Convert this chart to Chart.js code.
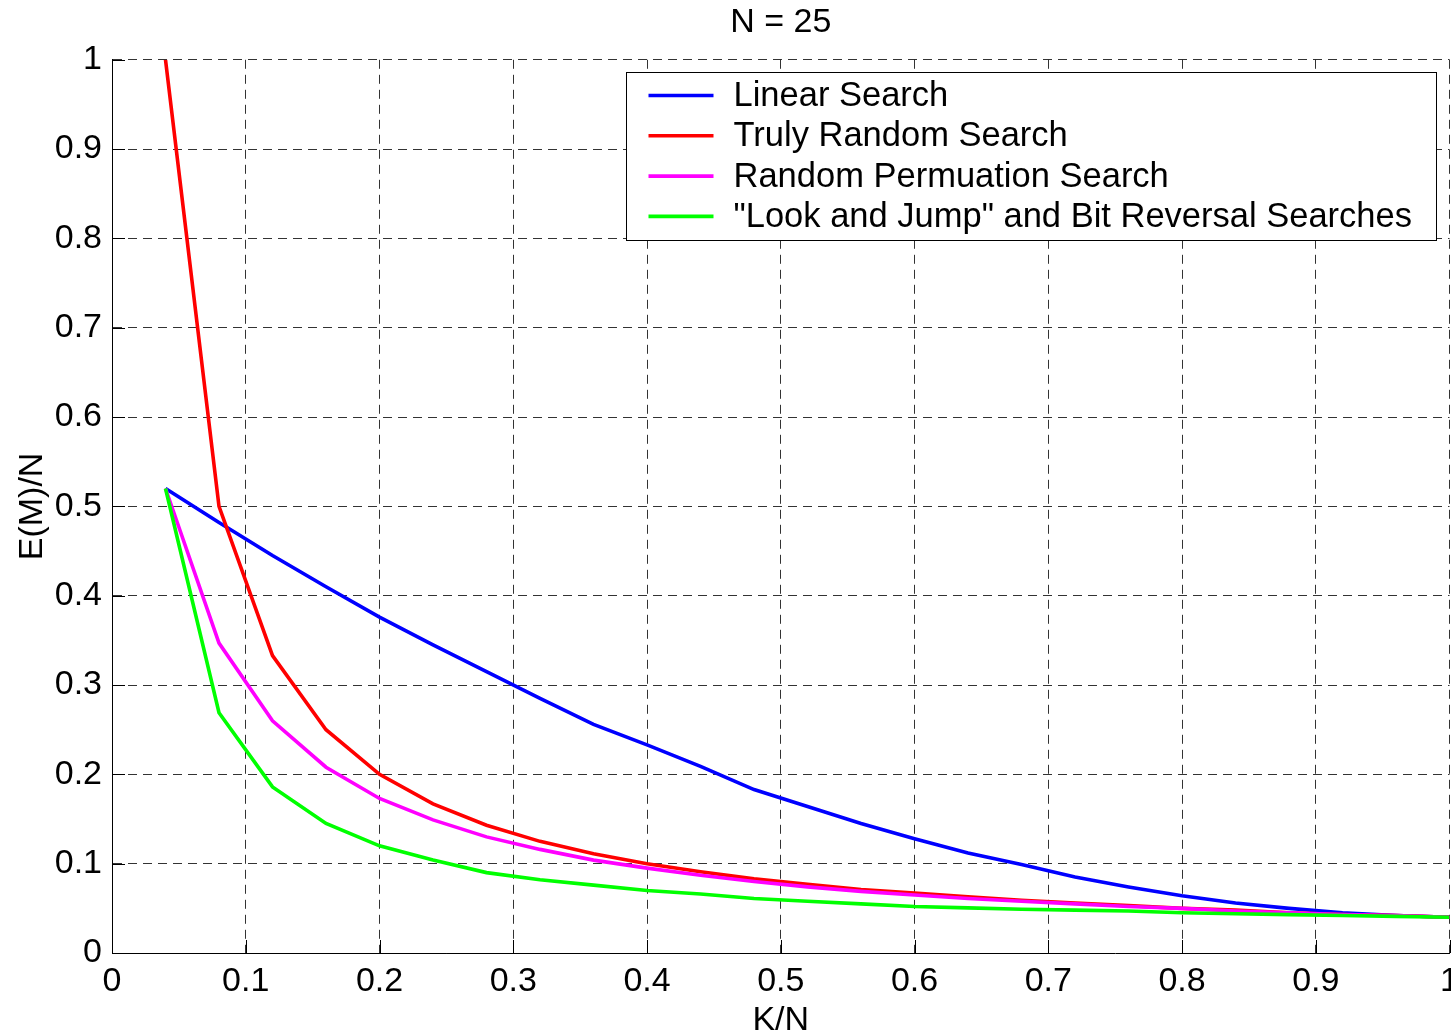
<!DOCTYPE html>
<html>
<head>
<meta charset="utf-8">
<title>N = 25</title>
<script src="https://cdn.jsdelivr.net/npm/chart.js@4/dist/chart.umd.min.js"></script>
<style>
  html, body { margin: 0; padding: 0; background: #fff; overflow: hidden; }
  #wrap { position: absolute; left: 0; top: 0; }
</style>
</head>
<body>
<div id="wrap"><canvas id="chart" width="1467" height="1034"></canvas></div>
<script>
// K/N for K = 1..25 with N = 25
const kOverN = [0.04, 0.08, 0.12, 0.16, 0.20, 0.24, 0.28, 0.32, 0.36, 0.40, 0.44, 0.48, 0.52,
                0.56, 0.60, 0.64, 0.68, 0.72, 0.76, 0.80, 0.84, 0.88, 0.92, 0.96, 1.00];

// E(M)/N for each search strategy
const linearSearch      = [0.520, 0.482, 0.445, 0.410, 0.376, 0.345, 0.315, 0.285, 0.256, 0.233, 0.209, 0.183, 0.164,
                           0.145, 0.128, 0.112, 0.099, 0.085, 0.074, 0.064, 0.056, 0.050, 0.045, 0.042, 0.040];
const trulyRandom       = [1.000, 0.500, 0.333, 0.250, 0.200, 0.167, 0.143, 0.125, 0.111, 0.100, 0.091, 0.083, 0.077,
                           0.071, 0.067, 0.063, 0.059, 0.056, 0.053, 0.050, 0.048, 0.045, 0.043, 0.042, 0.040];
const randomPermutation = [0.520, 0.347, 0.260, 0.208, 0.173, 0.149, 0.130, 0.116, 0.104, 0.095, 0.087, 0.080, 0.074,
                           0.069, 0.065, 0.061, 0.058, 0.055, 0.052, 0.050, 0.047, 0.045, 0.043, 0.042, 0.040];
const lookAndJump       = [0.520, 0.269, 0.186, 0.145, 0.120, 0.104, 0.090, 0.082, 0.076, 0.070, 0.066, 0.061, 0.058,
                           0.055, 0.052, 0.0505, 0.049, 0.048, 0.047, 0.045, 0.044, 0.043, 0.042, 0.041, 0.040];

const seriesLabels = ['Linear Search', 'Truly Random Search', 'Random Permuation Search',
                      '"Look and Jump" and Bit Reversal Searches'];
const seriesColors = ['#0000ff', '#ff0000', '#ff00ff', '#00ff00'];

const xTickLabels = ['0', '0.1', '0.2', '0.3', '0.4', '0.5', '0.6', '0.7', '0.8', '0.9', '1'];
const yTickLabels = ['0', '0.1', '0.2', '0.3', '0.4', '0.5', '0.6', '0.7', '0.8', '0.9', '1'];

const FONT = '"Liberation Sans", Arial, Helvetica, sans-serif';

function toPoints(ys) { return ys.map((y, i) => ({ x: kOverN[i], y: y })); }

const seriesValues = [linearSearch, trulyRandom, randomPermutation, lookAndJump];
// later series are painted on top
const drawOrder = [3, 2, 1, 0];

const datasets = seriesValues.map((vals, i) => ({
  label: seriesLabels[i],
  data: toPoints(vals),
  borderColor: seriesColors[i],
  backgroundColor: seriesColors[i],
  borderWidth: 3.6,
  pointRadius: 0,
  tension: 0,
  fill: false,
  order: drawOrder[i]
}));

// short inward tick marks on the left and bottom axes
const innerTicks = {
  id: 'innerTicks',
  afterDatasetsDraw(chart) {
    const { ctx, chartArea, scales } = chart;
    const len = 13;
    ctx.save();
    ctx.strokeStyle = '#000';
    ctx.lineWidth = 1;
    ctx.beginPath();
    scales.x.ticks.forEach(t => {
      const px = Math.round(scales.x.getPixelForValue(t.value)) + 0.5;
      ctx.moveTo(px, chartArea.bottom);
      ctx.lineTo(px, chartArea.bottom - len);
    });
    scales.y.ticks.forEach(t => {
      const py = Math.round(scales.y.getPixelForValue(t.value)) + 0.5;
      ctx.moveTo(chartArea.left, py);
      ctx.lineTo(chartArea.left + len, py);
    });
    ctx.stroke();
    ctx.restore();
  }
};

// boxed legend in the upper-right corner of the plot
const boxLegend = {
  id: 'boxLegend',
  afterDatasetsDraw(chart, args, opts) {
    const { ctx, chartArea } = chart;
    const w = opts.width, h = opts.height;
    const x0 = Math.round(chartArea.right - opts.marginRight - w) + 0.5;
    const y0 = Math.round(chartArea.top + opts.marginTop) + 0.5;
    ctx.save();
    ctx.fillStyle = '#fff';
    ctx.fillRect(x0, y0, w, h);
    ctx.strokeStyle = '#000';
    ctx.lineWidth = 1;
    ctx.strokeRect(x0, y0, w, h);
    ctx.font = opts.fontSize + 'px ' + FONT;
    ctx.textBaseline = 'middle';
    ctx.textAlign = 'left';
    chart.data.datasets.forEach((ds, i) => {
      const cy = y0 + opts.firstRow + i * opts.rowGap;
      ctx.strokeStyle = ds.borderColor;
      ctx.lineWidth = 3.6;
      ctx.beginPath();
      ctx.moveTo(x0 + opts.lineStart, cy);
      ctx.lineTo(x0 + opts.lineStart + opts.lineLength, cy);
      ctx.stroke();
      ctx.fillStyle = '#000';
      ctx.fillText(ds.label, x0 + opts.textStart, cy + 1);
    });
    ctx.restore();
  }
};

new Chart(document.getElementById('chart'), {
  type: 'line',
  data: { datasets: datasets },
  plugins: [innerTicks, boxLegend],
  options: {
    responsive: false,
    animation: false,
    devicePixelRatio: 1,
    layout: { padding: 0 },
    plugins: {
      legend: { display: false },
      tooltip: { enabled: false },
      title: {
        display: true,
        fullSize: false,
        text: 'N = 25',
        color: '#000',
        font: { family: FONT, size: 34, weight: 'normal', lineHeight: 1.2 },
        padding: { top: 2, bottom: 17 }
      },
      boxLegend: {
        width: 810, height: 168, marginRight: 14, marginTop: 12,
        firstRow: 23, rowGap: 40.3, lineStart: 22, lineLength: 65, textStart: 107,
        fontSize: 34.5
      }
    },
    scales: {
      x: {
        type: 'linear',
        min: 0, max: 1,
        afterFit(scale) { scale.height = 81; },
        ticks: {
          stepSize: 0.1,
          color: '#000',
          padding: 8,
          maxRotation: 0,
          font: { family: FONT, size: 34 },
          callback: (v, i) => xTickLabels[i]
        },
        grid: { color: 'rgba(0,0,0,0.8)', lineWidth: 1, drawTicks: false },
        border: { display: true, color: '#000', width: 1, dash: [9, 6] },
        title: {
          display: true, text: 'K/N', color: '#000',
          font: { family: FONT, size: 34, lineHeight: 1.0 },
          padding: { top: 0, bottom: -4 }
        }
      },
      y: {
        type: 'linear',
        min: 0, max: 1,
        afterFit(scale) { scale.width = 112; },
        ticks: {
          stepSize: 0.1,
          color: '#000',
          padding: 10,
          font: { family: FONT, size: 34 },
          callback: (v, i) => yTickLabels[i]
        },
        grid: { color: 'rgba(0,0,0,0.8)', lineWidth: 1, drawTicks: false },
        border: { display: true, color: '#000', width: 1, dash: [9, 6] },
        title: {
          display: true, text: 'E(M)/N', color: '#000',
          font: { family: FONT, size: 34, lineHeight: 1.2 },
          padding: { top: 12, bottom: 0 }
        }
      }
    }
  }
});
</script>
</body>
</html>
